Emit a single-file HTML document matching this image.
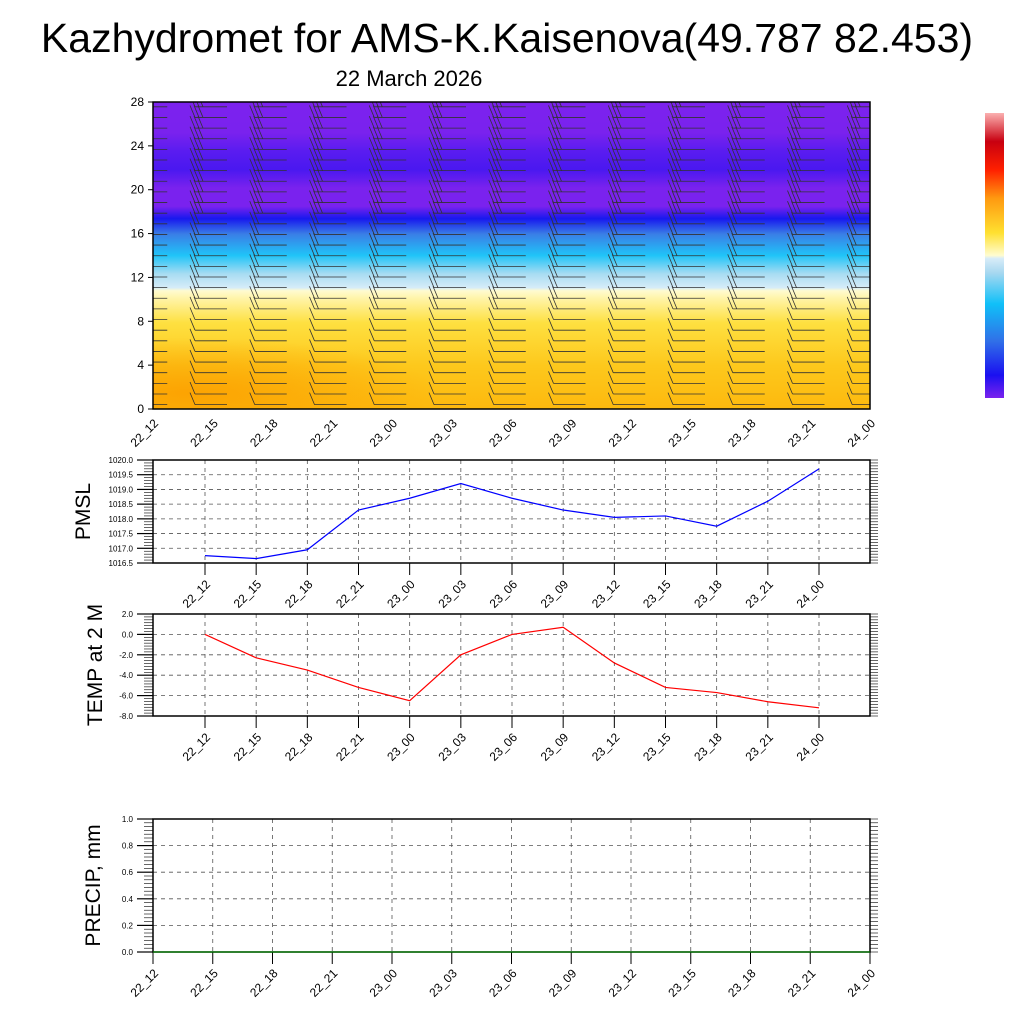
<!DOCTYPE html>
<html><head><meta charset="utf-8"><style>
body{margin:0;background:#fff;font-family:"Liberation Sans",sans-serif}
svg text{font-family:"Liberation Sans",sans-serif}
</style></head><body>
<svg width="1024" height="1024" viewBox="0 0 1024 1024" xmlns="http://www.w3.org/2000/svg">
<defs>
<linearGradient id="tg" x1="0" y1="1" x2="0" y2="0">
<stop offset="0" stop-color="#fdb90e"/>
<stop offset="0.14" stop-color="#fdc81c"/>
<stop offset="0.28" stop-color="#fee040"/>
<stop offset="0.36" stop-color="#fff4a8"/>
<stop offset="0.385" stop-color="#fffbd0"/>
<stop offset="0.395" stop-color="#d6ecf8"/>
<stop offset="0.44" stop-color="#a8dcf2"/>
<stop offset="0.5" stop-color="#20c4f8"/>
<stop offset="0.57" stop-color="#3a7ee6"/>
<stop offset="0.62" stop-color="#1818ee"/>
<stop offset="0.66" stop-color="#7a22ee"/>
<stop offset="0.72" stop-color="#7a22ee"/>
<stop offset="0.78" stop-color="#4a18f0"/>
<stop offset="0.84" stop-color="#5a1cf0"/>
<stop offset="0.9" stop-color="#7a22ee"/>
<stop offset="1" stop-color="#7c22ee"/>
</linearGradient>
<linearGradient id="cb" x1="0" y1="1" x2="0" y2="0">
<stop offset="0" stop-color="#7a22ee"/>
<stop offset="0.08" stop-color="#1a10f0"/>
<stop offset="0.2" stop-color="#3070e8"/>
<stop offset="0.33" stop-color="#10c0f8"/>
<stop offset="0.44" stop-color="#a8d8f0"/>
<stop offset="0.49" stop-color="#d8ecf8"/>
<stop offset="0.5" stop-color="#fffcd0"/>
<stop offset="0.58" stop-color="#ffe030"/>
<stop offset="0.7" stop-color="#ff9a10"/>
<stop offset="0.8" stop-color="#ff2000"/>
<stop offset="0.9" stop-color="#c80010"/>
<stop offset="1" stop-color="#fbb0b0"/>
</linearGradient>
<radialGradient id="og" cx="0.05" cy="0.9" r="0.35">
<stop offset="0" stop-color="#fca000" stop-opacity="0.9"/>
<stop offset="1" stop-color="#fca000" stop-opacity="0"/>
</radialGradient>
<clipPath id="tc"><rect x="153" y="102" width="717" height="307"/></clipPath>
</defs>
<text x="507" y="52" font-size="41" text-anchor="middle">Kazhydromet for AMS-K.Kaisenova(49.787 82.453)</text>
<text x="409" y="86" font-size="22" text-anchor="middle">22 March 2026</text>
<rect x="153" y="102" width="717" height="307" fill="url(#tg)"/>
<rect x="153" y="250" width="717" height="159" fill="url(#og)"/>
<g id="barbs" clip-path="url(#tc)"></g>
<rect x="153" y="102" width="717" height="307" fill="none" stroke="#000" stroke-width="1.5"/>
<g id="topaxes"></g>
<rect x="985" y="113" width="19" height="285" fill="url(#cb)"/>
<g id="pmsl"></g>
<g id="temp"></g>
<g id="prec"></g>
</svg>
<script>
const timeLabels=["22_12","22_15","22_18","22_21","23_00","23_03","23_06","23_09","23_12","23_15","23_18","23_21","24_00"];
const pmslValues=[1016.75,1016.65,1016.95,1018.3,1018.7,1019.2,1018.7,1018.3,1018.05,1018.1,1017.75,1018.6,1019.7];
const tempValues=[0,-2.3,-3.5,-5.2,-6.5,-2.0,0,0.7,-2.8,-5.2,-5.7,-6.6,-7.2];
const precipValues=[0,0,0,0,0,0,0,0,0,0,0,0,0];
const heightTicks=[0,4,8,12,16,20,24,28];
const pmslTicks=[1016.5,1017.0,1017.5,1018.0,1018.5,1019.0,1019.5,1020.0];
const tempTicks=[-8,-6,-4,-2,0,2];
const precTicks=[0,0.2,0.4,0.6,0.8,1.0];
const NS="http://www.w3.org/2000/svg";
function mk(p,t,a){const e=document.createElementNS(NS,t);for(const k in a)e.setAttribute(k,a[k]);p.appendChild(e);return e;}
const topAx=document.getElementById('topaxes');
const hy=h=>409-h*307/28;
heightTicks.forEach(h=>{const y=hy(h);
const t=mk(topAx,'text',{x:144,y:y+4,'font-size':12,'text-anchor':'end'});t.textContent=h;


mk(topAx,'line',{x1:148,x2:153,y1:y,y2:y,stroke:'#000'});});
const tx=i=>153+i*717/12;
timeLabels.forEach((l,i)=>{const x=tx(i);
const t=mk(topAx,'text',{x:x+6,y:424,'font-size':12,'text-anchor':'end',transform:`rotate(-45 ${x+6} 424)`});t.textContent=l;

});
const bg=document.getElementById('barbs');
for(let c=-1;c<12;c++){const xc=tx(c)+60;
for(let k=0;k<29;k++){const y=hy(0.4+k*0.97);if(y<104)continue;
const x0=xc-18,x1=xc+14;
mk(bg,'line',{x1:x0,y1:y,x2:x1,y2:y,stroke:'#333','stroke-width':0.8});
const n=k>17?3:(k>8?2:1);
for(let f=0;f<n;f++){mk(bg,'line',{x1:x0+f*4,y1:y,x2:x0+f*4-5,y2:y-12,stroke:'#333','stroke-width':0.8});}}}
function panel(g,y0,y1,ticks,vals,color,label,fmt,xs,labs,pts){
const lo=ticks[0],hi=ticks[ticks.length-1];
const ys=v=>y1-(v-lo)/(hi-lo)*(y1-y0);
ticks.forEach(v=>{const y=ys(v);
if(v!==lo&&v!==hi)mk(g,'line',{x1:153,x2:870,y1:y,y2:y,stroke:'#555','stroke-dasharray':'4,4','stroke-width':0.8});
mk(g,'line',{x1:137,x2:153,y1:y,y2:y,stroke:'#000','stroke-width':1.2});
const t=mk(g,'text',{x:133,y:y+3,'font-size':8,'text-anchor':'end'});t.textContent=fmt(v);

});
for(let i=0;i<=35;i++){const y=y0+i*(y1-y0)/35;
mk(g,'line',{x1:144,x2:153,y1:y,y2:y,stroke:'#000','stroke-width':0.6});
mk(g,'line',{x1:870,x2:878,y1:y,y2:y,stroke:'#000','stroke-width':0.6});}
labs.forEach((l,i)=>{const x=xs(i);
mk(g,'line',{x1:x,x2:x,y1:y0,y2:y1,stroke:'#555','stroke-dasharray':'4,4','stroke-width':0.8});
mk(g,'line',{x1:x,x2:x,y1:y1,y2:y1+12,stroke:'#000'});
const t=mk(g,'text',{x:x+6,y:y1+22,'font-size':12,'text-anchor':'end',transform:`rotate(-45 ${x+6} ${y1+22})`});t.textContent=l;

});
mk(g,'rect',{x:153,y:y0,width:717,height:y1-y0,fill:'none',stroke:'#000','stroke-width':1.5});
const p=mk(g,'polyline',{points:vals.map((v,i)=>pts(i)+','+ys(v)).join(' '),fill:'none',stroke:color,'stroke-width':1.2});


const t=mk(g,'text',{x:0,y:0,'font-size':21,'text-anchor':'middle',transform:`translate(${label[1]} ${(y0+y1)/2}) rotate(-90)`});t.textContent=label[0];

}
const px=i=>205+i*(819-205)/12;
panel(document.getElementById('pmsl'),460,563,pmslTicks,pmslValues,'#0000ff',['PMSL',90],v=>v.toFixed(1),px,timeLabels,px);
panel(document.getElementById('temp'),614,716,tempTicks,tempValues,'#ff0000',['TEMP at 2 M',102],v=>v.toFixed(1),px,timeLabels,px);
panel(document.getElementById('prec'),819,952,precTicks,precipValues,'#008000',['PRECIP, mm',100],v=>v.toFixed(1),tx,timeLabels,tx);
</script>
</body></html>
